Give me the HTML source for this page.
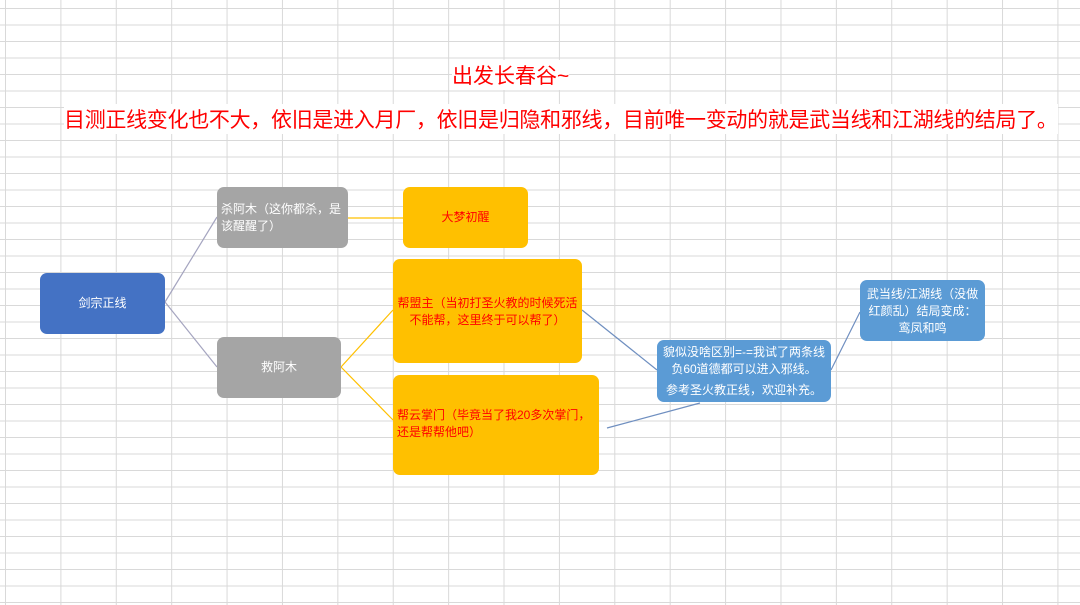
<!DOCTYPE html>
<html><head><meta charset="utf-8"><style>
body{margin:0;width:1080px;height:605px;overflow:hidden;background:#fff;font-family:"Liberation Sans","Noto Sans CJK SC",sans-serif;position:relative}
.grid{position:absolute;inset:0;background-image:linear-gradient(90deg,#d9d9d9 1px,transparent 1px),linear-gradient(#d9d9d9 1px,transparent 1px);background-size:55.4px 100%,100% 16.5px;background-position:5px 0,0 8px}
.b{position:absolute;border-radius:7px;display:flex;align-items:center;justify-content:center;text-align:center;font-size:12px;line-height:17px;box-sizing:border-box;padding:4px}
.t{position:absolute;color:#f00;white-space:nowrap}
</style></head><body>
<div class="grid"></div>
<div class="t" style="left:452px;top:60px;font-size:21px;background:#fff">出发长春谷~</div>
<div class="t" style="left:64px;top:104px;font-size:21px;letter-spacing:-0.3px;background:#fff">目测正线变化也不大，依旧是进入月厂，依旧是归隐和邪线，目前唯一变动的就是武当线和江湖线的结局了。</div>
<svg width="1080" height="605" style="position:absolute;left:0;top:0">
<g fill="none" stroke-width="1.2">
<path d="M165 302 L217 217 M165 302 L217 367" stroke="#a5a5c0"/>
<path d="M348 218 L403 218 M341 367 L393 310 M341 367 L393 420" stroke="#ffc000"/>
<path d="M582 310 L657 370 M607 428 L700 403 M831 370 L860 312" stroke="#6f8fc0"/>
</g></svg>
<div class="b" style="left:40px;top:273px;width:125px;height:61px;background:#4472c4;color:#fff">剑宗正线</div>
<div class="b" style="left:217px;top:187px;width:131px;height:61px;background:#a5a5a5;color:#fff;justify-content:flex-start;text-align:left">杀阿木（这你都杀，是该醒醒了）</div>
<div class="b" style="left:217px;top:337px;width:124px;height:61px;background:#a5a5a5;color:#fff">救阿木</div>
<div class="b" style="left:403px;top:187px;width:125px;height:61px;background:#ffc000;color:#f00">大梦初醒</div>
<div class="b" style="left:393px;top:259px;width:189px;height:104px;background:#ffc000;color:#f00;align-items:flex-start;padding-top:36px">帮盟主（当初打圣火教的时候死活不能帮，这里终于可以帮了）</div>
<div class="b" style="left:393px;top:375px;width:206px;height:100px;background:#ffc000;color:#f00;align-items:flex-start;justify-content:flex-start;text-align:left;padding-top:32px">帮云掌门（毕竟当了我20多次掌门，还是帮帮他吧）</div>
<div class="b" style="left:657px;top:340px;width:174px;height:62px;background:#5b9bd5;color:#fff;flex-direction:column;padding:2px"><div>貌似没啥区别=-=我试了两条线负60道德都可以进入邪线。</div><div style="margin-top:4px">参考圣火教正线，欢迎补充。</div></div>
<div class="b" style="left:860px;top:280px;width:125px;height:61px;background:#5b9bd5;color:#fff;align-items:flex-start;padding-top:6px">武当线/江湖线（没做红颜乱）结局变成：鸾凤和鸣</div>
</body></html>
